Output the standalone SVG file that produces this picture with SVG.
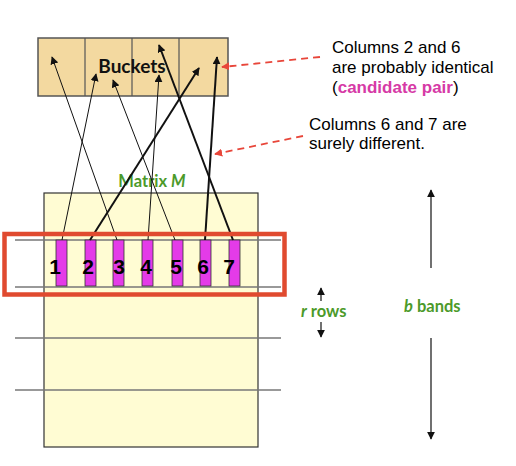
<svg xmlns="http://www.w3.org/2000/svg" width="516" height="466" viewBox="0 0 516 466">
<style>
.thin{stroke:#111;stroke-width:1;fill:none}
.thick{stroke:#111;stroke-width:2;fill:none}
.band{stroke:#777;stroke-width:1.5}
.col{fill:#E43BE8;stroke:#333;stroke-width:0.8}
.dig{font-family:"Liberation Sans",Arial,sans-serif;font-weight:bold;font-size:21px;fill:#000;text-anchor:middle}
.note{font-family:"Liberation Sans",Arial,sans-serif;font-size:17px;fill:#000}
.green{font-family:Lato,"Open Sans",sans-serif;font-weight:bold;fill:#4C9A2A}
.dash{stroke:#E8463A;stroke-width:1.8;stroke-dasharray:7,5;fill:none}
.arr{stroke:#111;stroke-width:1.2;fill:none}
</style>
<defs>
<marker id="ah" viewBox="0 0 10 10" refX="9" refY="5" markerWidth="8" markerHeight="8" markerUnits="userSpaceOnUse" orient="auto"><path d="M0,0 L10,5 L0,10 z" fill="#111"/></marker>
<marker id="ahr" viewBox="0 0 10 10" refX="9" refY="5" markerWidth="8" markerHeight="8" markerUnits="userSpaceOnUse" orient="auto"><path d="M0,0 L10,5 L0,10 z" fill="#E8463A"/></marker>
</defs>
<rect width="516" height="466" fill="#fff"/>
<g id="buckets">
<rect x="38" y="38" width="190" height="58" fill="#F3D9A0" stroke="#555" stroke-width="1.5"/>
<line x1="85" y1="38" x2="85" y2="96" stroke="#555" stroke-width="1.2"/>
<line x1="132" y1="38" x2="132" y2="96" stroke="#555" stroke-width="1.2"/>
<line x1="179" y1="38" x2="179" y2="96" stroke="#555" stroke-width="1.2"/>
<text x="132" y="73" text-anchor="middle" font-family="Lato,'Open Sans',sans-serif" font-weight="bold" font-size="19" fill="#111">Buckets</text>
</g>
<g id="matrix">
<rect x="44" y="193" width="214" height="254" fill="#FFFCD3" stroke="#333" stroke-width="1.2"/>
<text x="152" y="187" text-anchor="middle" class="green" font-size="16.5">Matrix <tspan font-style="italic">M</tspan></text>
</g>
<g id="bands">
<line class="band" x1="15" y1="240" x2="281" y2="240"/>
<line class="band" x1="15" y1="287" x2="281" y2="287"/>
<line class="band" x1="15" y1="338" x2="281" y2="338"/>
<line class="band" x1="15" y1="390" x2="281" y2="390"/>
</g>
<g id="columns">
<rect class="col" x="56" y="240" width="11" height="46"/>
<rect class="col" x="85" y="240" width="11" height="46"/>
<rect class="col" x="113" y="240" width="11" height="46"/>
<rect class="col" x="142" y="240" width="11" height="46"/>
<rect class="col" x="172" y="240" width="11" height="46"/>
<rect class="col" x="200" y="240" width="11" height="46"/>
<rect class="col" x="229" y="240" width="11" height="46"/>
<text class="dig" x="55" y="274">1</text>
<text class="dig" x="88" y="274">2</text>
<text class="dig" x="119" y="274">3</text>
<text class="dig" x="146" y="274">4</text>
<text class="dig" x="176" y="274">5</text>
<text class="dig" x="203" y="274">6</text>
<text class="dig" x="229" y="274">7</text>
</g>
<g id="connectors">
<line class="thin" x1="62" y1="240" x2="96" y2="74" marker-end="url(#ah)"/>
<line class="thick" x1="90" y1="240" x2="199" y2="68" marker-end="url(#ah)"/>
<line class="thin" x1="117" y1="240" x2="52" y2="57" marker-end="url(#ah)"/>
<line class="thin" x1="148" y1="240" x2="159" y2="75" marker-end="url(#ah)"/>
<line class="thin" x1="175" y1="240" x2="113" y2="80" marker-end="url(#ah)"/>
<line class="thick" x1="205" y1="240" x2="217" y2="57" marker-end="url(#ah)"/>
<line class="thick" x1="233" y1="240" x2="159" y2="45" marker-end="url(#ah)"/>
<line class="dash" x1="320" y1="57" x2="222" y2="67" marker-end="url(#ahr)"/>
<line class="dash" x1="303" y1="136" x2="215" y2="154" marker-end="url(#ahr)"/>
<line class="arr" x1="321" y1="301" x2="321" y2="288" marker-end="url(#ah)"/>
<line class="arr" x1="321" y1="322" x2="321" y2="337" marker-end="url(#ah)"/>
<line class="arr" x1="431" y1="268" x2="431" y2="190" marker-end="url(#ah)"/>
<line class="arr" x1="431" y1="338" x2="431" y2="439" marker-end="url(#ah)"/>
</g>
<g id="band-box">
<rect x="4.5" y="234" width="280" height="60.5" fill="none" stroke="#E04A2F" stroke-width="4.5"/>
</g>
<g id="labels">
<text class="note" x="332" y="53">Columns 2 and 6</text>
<text class="note" x="332" y="73">are probably identical</text>
<text class="note" x="332" y="93">(<tspan fill="#D63AA6" font-weight="bold">candidate pair</tspan>)</text>
<text class="note" x="309" y="130">Columns 6 and 7 are</text>
<text class="note" x="309" y="149">surely different.</text>
<text class="green" x="301" y="317" font-size="16.5"><tspan font-style="italic">r</tspan> rows</text>
<text class="green" x="404" y="312" font-size="16.5"><tspan font-style="italic">b</tspan> bands</text>
</g>
</svg>
